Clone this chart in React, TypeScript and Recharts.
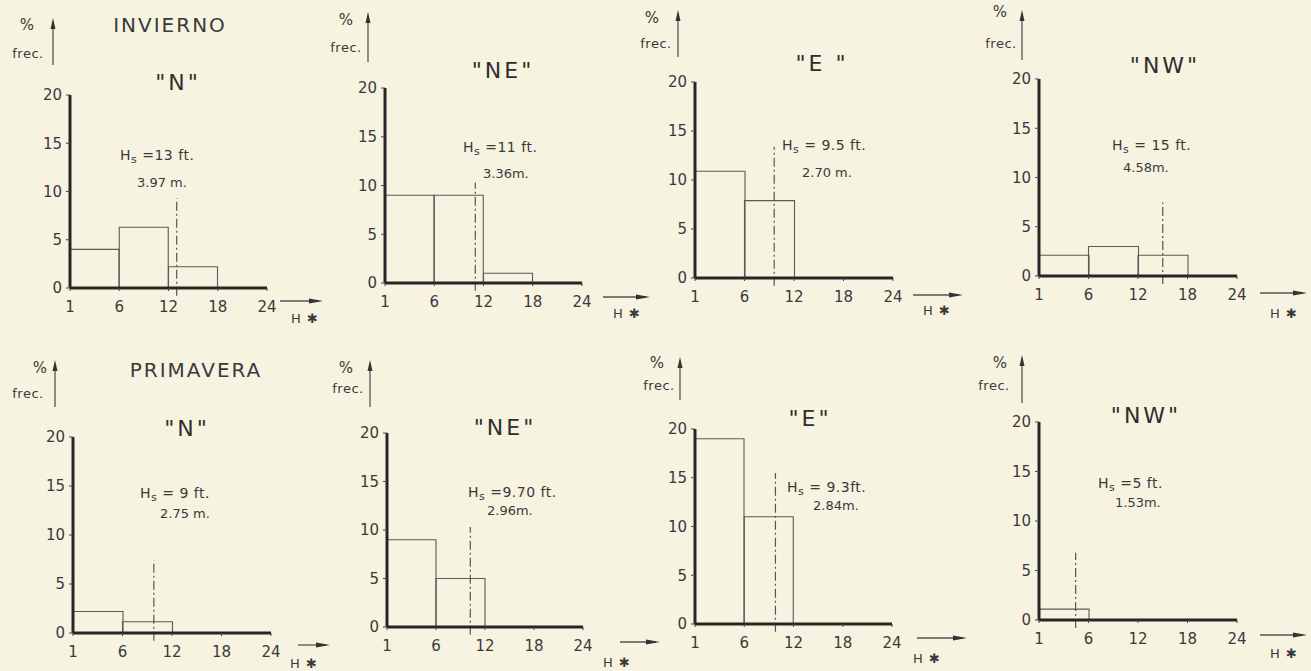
import React from 'react';
import { ComposedChart, Bar, XAxis, YAxis, ReferenceLine } from 'recharts';

// wave height class edges (ft) and labels along the x axis
const heightEdges = [1, 6, 12, 18, 24];
const heightTicks = ['1', '6', '12', '18', '24'];
const freqTicks = [0, 5, 10, 15, 20];

const seasons = ['INVIERNO', 'PRIMAVERA'];
const directions = ['"N"', '"NE"', '"E "', '"NW"', '"N"', '"NE"', '"E"', '"NW"'];

// % frecuencia per height class (1-6, 6-12, 12-18, 18-24)
const invN = [4, 6.3, 2.2, 0];
const invNE = [9, 9, 1, 0];
const invE = [10.9, 7.9, 0, 0];
const invNW = [2.1, 3.0, 2.1, 0];
const priN = [2.2, 1.15, 0, 0];
const priNE = [9, 5, 0, 0];
const priE = [19, 11, 0, 0];
const priNW = [1.1, 0, 0, 0];
const freqSeries = [invN, invNE, invE, invNW, priN, priNE, priE, priNW];

// significant wave height, as printed
const hsFeet = ['=13 ft.', '=11 ft.', '= 9.5 ft.', '= 15 ft.', '= 9 ft.', '=9.70 ft.', '= 9.3ft.', '=5 ft.'];
const hsMeters = ['3.97 m.', '3.36m.', '2.70 m.', '4.58m.', '2.75 m.', '2.96m.', '2.84m.', '1.53m.'];
// where the dash-dot Hs line is drawn (ft) and how high it goes (%)
const hsLineFt = [13, 11, 9.6, 15, 9.8, 10.2, 9.8, 4.7];
const hsLineTop = [9.3, 10.3, 13.4, 7.5, 7.4, 10.3, 15.5, 6.8];

// page layout of each small chart (plot box is left, right, top, bottom)
const layout = [
  { plot: [70, 267, 95, 288], pct: [27, 25], yArrow: [53, 18, 65], frec: [28, 53], dir: [178, 82], hs1: [120, 155], hs2: [137, 182], hArrow: [280, 323, 301], hLabel: [291, 318] },
  { plot: [385, 582, 88, 283], pct: [346, 20], yArrow: [368, 12, 62], frec: [346, 47], dir: [503, 70], hs1: [463, 147], hs2: [483, 173], hArrow: [603, 650, 297], hLabel: [613, 313] },
  { plot: [695, 893, 82, 278], pct: [652, 18], yArrow: [678, 10, 57], frec: [656, 43], dir: [822, 63], hs1: [782, 145], hs2: [802, 172], hArrow: [913, 963, 295], hLabel: [923, 310] },
  { plot: [1039, 1237, 79, 276], pct: [1000, 12], yArrow: [1022, 10, 60], frec: [1001, 43], dir: [1165, 65], hs1: [1112, 145], hs2: [1123, 167], hArrow: [1260, 1307, 293], hLabel: [1270, 313] },
  { plot: [73, 271, 437, 633], pct: [40, 368], yArrow: [55, 360, 407], frec: [28, 393], dir: [187, 428], hs1: [140, 493], hs2: [160, 513], hArrow: [298, 330, 645], hLabel: [290, 663] },
  { plot: [387, 583, 433, 627], pct: [346, 368], yArrow: [370, 360, 407], frec: [348, 388], dir: [505, 427], hs1: [468, 492], hs2: [487, 510], hArrow: [620, 660, 642], hLabel: [603, 662] },
  { plot: [695, 892, 429, 624], pct: [657, 363], yArrow: [680, 357, 400], frec: [659, 385], dir: [810, 418], hs1: [787, 487], hs2: [813, 505], hArrow: [917, 967, 638], hLabel: [913, 658] },
  { plot: [1039, 1237, 422, 620], pct: [1000, 363], yArrow: [1022, 355, 403], frec: [994, 385], dir: [1146, 415], hs1: [1098, 483], hs2: [1115, 502], hArrow: [1260, 1307, 635], hLabel: [1270, 653] },
];
const titlePos = [[170, 25], [196, 370]];

const YW = 45;
const XH = 30;
const MT = 10;
const MR = 10;
const ink = '#3a3a3a';
const font = 'DejaVu Sans';

// x axis is evenly spaced per class, so map ft onto class index
const ftToIdx = (ft: number) => {
  for (let k = 0; k < heightEdges.length - 1; k++) {
    if (ft <= heightEdges[k + 1]) return k + (ft - heightEdges[k]) / (heightEdges[k + 1] - heightEdges[k]);
  }
  return heightEdges.length - 1;
};

const Panel: React.FC<{ i: number }> = ({ i }) => {
  const [left, right, top, bottom] = layout[i].plot;
  const w = right - left;
  const h = bottom - top;
  const data = freqSeries[i].map((v, k) => ({ bin: k, mid: k + 0.5, v }));
  const x = ftToIdx(hsLineFt[i]);

  return (
    <div style={{ position: 'absolute', left: left - YW, top: top - MT }}>
      <ComposedChart
        width={YW + w + MR}
        height={MT + h + XH}
        data={data}
        margin={{ top: MT, right: MR, left: 0, bottom: 0 }}
        barCategoryGap={0}
        barGap={0}
      >
        <XAxis xAxisId="bin" dataKey="bin" type="category" hide height={0} />
        <XAxis
          xAxisId="h"
          dataKey="mid"
          type="number"
          domain={[0, 4]}
          ticks={[0, 1, 2, 3, 4]}
          tickFormatter={(t: number) => heightTicks[t]}
          height={XH}
          axisLine={{ stroke: '#262626', strokeWidth: 3 }}
          tickLine={{ stroke: '#444' }}
          tickSize={3}
          tickMargin={10}
          tick={{ fill: ink, fontSize: 15, fontFamily: font }}
          interval={0}
        />
        <YAxis
          yAxisId="f"
          type="number"
          domain={[0, 20]}
          ticks={freqTicks}
          width={YW}
          axisLine={{ stroke: '#262626', strokeWidth: 3 }}
          tickLine={{ stroke: '#444' }}
          tickSize={4}
          tickMargin={4}
          tick={{ fill: ink, fontSize: 15, fontFamily: font }}
          interval={0}
        />
        <Bar xAxisId="bin" yAxisId="f" dataKey="v" fill="none" stroke="#5a5a5a" strokeWidth={1.1} isAnimationActive={false} />
        <ReferenceLine
          xAxisId="h"
          yAxisId="f"
          segment={[{ x, y: -0.8 }, { x, y: hsLineTop[i] }]}
          stroke="#555"
          strokeWidth={1.2}
          strokeDasharray="9 3 2 3"
          ifOverflow="visible"
        />
      </ComposedChart>
    </div>
  );
};

const App: React.FC = () => {
  return (
    <div style={{ position: 'absolute', left: 0, top: 0, width: 1311, height: 671, background: '#f7f3e1', overflow: 'hidden' }}>
      {layout.map((_, i) => (
        <Panel key={i} i={i} />
      ))}
      <svg width={1311} height={671} style={{ position: 'absolute', left: 0, top: 0, pointerEvents: 'none' }} fontFamily={font} fill={ink}>
        {seasons.map((s, k) => (
          <text key={s} x={titlePos[k][0]} y={titlePos[k][1]} fontSize={20} letterSpacing={2} textAnchor="middle" dominantBaseline="central">
            {s}
          </text>
        ))}
        {layout.map((L, i) => {
          const [ax, ay1, ay2] = L.yArrow;
          const [hx1, hx2, hy] = L.hArrow;
          return (
            <g key={i}>
              <text x={L.pct[0]} y={L.pct[1]} fontSize={15} textAnchor="middle" dominantBaseline="central">%</text>
              <line x1={ax} x2={ax} y1={ay1 + 6} y2={ay2} stroke="#555" strokeWidth={1.3} />
              <polygon points={`${ax - 2.5},${ay1 + 11} ${ax},${ay1} ${ax + 2.5},${ay1 + 11}`} fill="#333" />
              <text x={L.frec[0]} y={L.frec[1]} fontSize={13} letterSpacing={0.5} textAnchor="middle" dominantBaseline="central">frec.</text>
              <text x={L.dir[0]} y={L.dir[1]} fontSize={22} letterSpacing={3} textAnchor="middle" dominantBaseline="central" fill="#2e2e2e">
                {directions[i]}
              </text>
              <text x={L.hs1[0]} y={L.hs1[1]} fontSize={14} letterSpacing={0.5} dominantBaseline="central">
                H<tspan fontSize={11} dy={4}>s</tspan>
                <tspan dy={-4}> {hsFeet[i]}</tspan>
              </text>
              <text x={L.hs2[0]} y={L.hs2[1]} fontSize={13} dominantBaseline="central">{hsMeters[i]}</text>
              <line x1={hx1} x2={hx2 - 4} y1={hy} y2={hy} stroke="#555" strokeWidth={1.3} />
              <polygon points={`${hx2 - 14},${hy - 2.5} ${hx2},${hy} ${hx2 - 14},${hy + 2.5}`} fill="#333" />
              <text x={L.hLabel[0]} y={L.hLabel[1]} fontSize={13} letterSpacing={1} dominantBaseline="central" fill={ink}>H ✱</text>
            </g>
          );
        })}
      </svg>
    </div>
  );
};

export default App;
